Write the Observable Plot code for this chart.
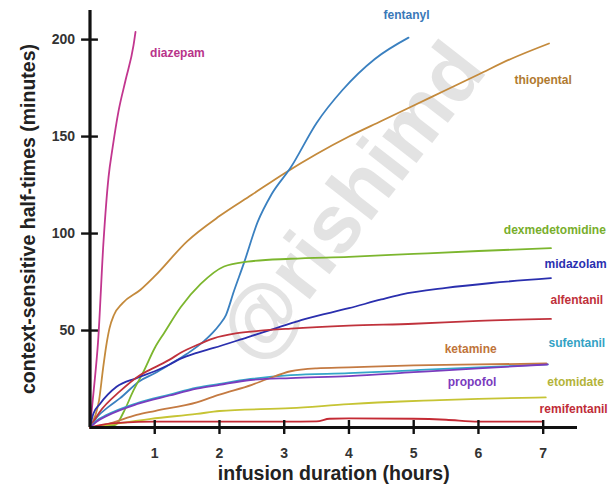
<!DOCTYPE html>
<html>
<head>
<meta charset="utf-8">
<script src="https://cdn.jsdelivr.net/npm/d3@7"></script>
<script src="https://cdn.jsdelivr.net/npm/@observablehq/plot@0.6"></script>
<style>
  html, body { margin: 0; padding: 0; background: #fff; }
  #chart { width: 609px; height: 491px; }
</style>
</head>
<body>
<div id="chart"></div>
<script>
// ---- data (hours, minutes) ----
const drugs = ["diazepam", "thiopental", "fentanyl", "dexmedetomidine", "midazolam", "alfentanil", "sufentanil", "ketamine", "propofol", "etomidate", "remifentanil"];
const drugColors = ["#c2368f", "#c48a3c", "#3a80c0", "#7cb62e", "#2a2fae", "#c0323c", "#34a6c8", "#c47a42", "#7a3cbe", "#c6c434", "#c42a34"];
const labelColors = ["#b8348a", "#b07a30", "#3a78b8", "#78ae2c", "#2a30b0", "#c0303a", "#34a2c4", "#c0743a", "#7a3cbe", "#b4b43a", "#c02c38"];

const diazepamH = [0, 0.06, 0.124, 0.209, 0.286, 0.348, 0.44, 0.549, 0.672, 0.703];
const diazepamM = [0, 20, 44, 96, 129, 144, 163, 179, 197, 204];

const thiopentalH = [0, 0.08, 0.14, 0.2, 0.25, 0.3, 0.37, 0.5, 0.78, 1, 1.5, 2, 2.5, 3, 3.5, 4, 4.5, 5, 5.5, 6, 6.5, 7.09];
const thiopentalM = [0, 6, 14, 30, 42, 51, 58, 64, 71, 78, 96, 109, 120, 131, 141, 150, 158, 166, 174, 182, 190, 198];

const fentanylH = [0, 0.1, 0.3, 0.46, 0.77, 1.0, 1.23, 1.5, 1.76, 1.9, 2.0, 2.1, 2.22, 2.38, 2.59, 2.8, 3.1, 3.5, 3.9, 4.4, 4.92];
const fentanylM = [0, 5, 11, 15, 24, 28, 32.5, 38, 44.5, 49, 53, 58, 70, 85, 106, 120, 134, 157, 174, 190, 201];

const dexmedetomidineH = [0, 0.3, 0.4, 0.52, 0.67, 0.83, 1.0, 1.15, 1.4, 1.71, 2.07, 2.43, 3.1, 4, 5, 6, 7.12];
const dexmedetomidineM = [0, 0.8, 1.5, 8, 19, 29, 41, 49, 62, 74, 83, 85.5, 87, 88, 89.5, 91, 92.5];

const midazolamH = [0, 0.05, 0.15, 0.41, 0.72, 1.0, 1.23, 1.4, 1.65, 1.91, 2.43, 2.9, 3.33, 4, 4.5, 4.8, 5.5, 6.2, 7.12];
const midazolamM = [0, 7, 12, 21, 25.5, 29, 32.5, 35.5, 38.5, 41, 46.5, 51.5, 56, 61.5, 66, 68.5, 72, 74.5, 77];

const alfentanilH = [0, 0.15, 0.46, 0.77, 1.0, 1.23, 1.4, 1.65, 1.91, 2.25, 2.6, 3.1, 4, 5, 6, 7.12];
const alfentanilM = [0, 8, 18.6, 27, 31, 35, 38.5, 42.5, 46, 48.5, 49.8, 51, 52.5, 53.5, 55, 56];

const sufentanilH = [0, 0.1, 0.26, 0.72, 1.23, 1.65, 2.0, 2.48, 3.1, 4, 5, 6, 7.07];
const sufentanilM = [0, 3.5, 6.5, 12.5, 17, 20.5, 22.5, 25, 27, 28, 29.5, 31, 32.5];

const ketamineH = [0, 0.3, 0.72, 1.0, 1.65, 2.0, 2.5, 2.74, 3.1, 3.5, 4, 5, 6, 7.05];
const ketamineM = [0, 2, 6.5, 8.5, 13, 17, 22, 25, 29, 30.5, 31, 32, 32.5, 33];

const propofolH = [0, 0.1, 0.26, 0.72, 1.23, 1.65, 2.0, 2.48, 3.1, 4, 5, 6, 7.07];
const propofolM = [0, 3, 6, 12, 16.5, 20, 22, 24.5, 25.5, 26.5, 28.5, 30.5, 32.5];

const etomidateH = [0, 0.3, 0.94, 1.65, 2.0, 3.1, 4, 4.8, 5.3, 6, 7.04];
const etomidateM = [0, 1.5, 4.5, 7, 8.5, 10, 12, 13.4, 14, 14.8, 15.5];

const remifentanilH = [0, 0.2, 0.5, 1, 2, 3, 3.5, 3.7, 4, 5, 5.5, 6, 7];
const remifentanilM = [0, 1.5, 2.5, 3, 3, 3, 3.2, 4.5, 4.7, 4.5, 4, 3, 3];

const series = {
  diazepam: [diazepamH, diazepamM],
  thiopental: [thiopentalH, thiopentalM],
  fentanyl: [fentanylH, fentanylM],
  dexmedetomidine: [dexmedetomidineH, dexmedetomidineM],
  midazolam: [midazolamH, midazolamM],
  alfentanil: [alfentanilH, alfentanilM],
  sufentanil: [sufentanilH, sufentanilM],
  ketamine: [ketamineH, ketamineM],
  propofol: [propofolH, propofolM],
  etomidate: [etomidateH, etomidateM],
  remifentanil: [remifentanilH, remifentanilM]
};

// label anchors (in data units: hours, minutes), same order as drugs
const labelH = [1.35, 7.0, 4.89, 7.18, 7.5, 7.52, 7.52, 5.88, 5.9, 7.5, 7.47];
const labelM = [193, 179, 212.5, 102, 84, 65.7, 43.4, 40.3, 23.3, 23.3, 9.3];

const xTicks = [1, 2, 3, 4, 5, 6, 7];
const yTicks = [50, 100, 150, 200];

const xTitle = "infusion duration (hours)";
const yTitle = "context-sensitive half-times (minutes)";
const watermark = "@rishimd";

// ---- build table ----
const rows = [];
for (const d of drugs) {
  const [hs, ms] = series[d];
  hs.forEach((h, i) => rows.push({drug: d, h, m: ms[i]}));
}
const labels = drugs.map((d, i) => ({drug: d, h: labelH[i], m: labelM[i], color: labelColors[i]}));

const font = "'Liberation Sans', Arial, Helvetica, sans-serif";

const chart = Plot.plot({
  width: 609,
  height: 491,
  marginLeft: 89.5,
  marginRight: 32,
  marginTop: 10,
  marginBottom: 64,
  style: {fontFamily: font, background: "#fff", overflow: "visible"},
  x: {domain: [0, 7.53], axis: null},
  y: {domain: [0, 215], axis: null},
  color: {domain: drugs, range: drugColors},
  marks: [
    Plot.text([watermark], {x: 4.05, y: 116, text: d => d, rotate: -52, fontSize: 82, fontWeight: "bold", fill: "#c8c8c8", fillOpacity: 0.5}),
    Plot.line(rows, {x: "h", y: "m", z: "drug", stroke: "drug", strokeWidth: 1.8, curve: "monotone-x"}),
    Plot.ruleY([0], {stroke: "#111", strokeWidth: 3.2}),
    Plot.ruleX([0], {stroke: "#111", strokeWidth: 3.2}),
    Plot.ruleX(xTicks, {x: d => d, y1: -3.6, y2: 3.6, stroke: "#111", strokeWidth: 2.4}),
    Plot.ruleY(yTicks, {y: d => d, x1: -0.13, x2: 0.13, stroke: "#111", strokeWidth: 2.4}),
    Plot.text(xTicks, {x: d => d, y: 0, dy: 26, text: d => String(d), fontSize: 14, fontWeight: "bold", fill: "#333"}),
    Plot.text(yTicks, {x: 0, y: d => d, dx: -15, textAnchor: "end", text: d => String(d), fontSize: 14, fontWeight: "bold", fill: "#333"}),
    Plot.text(labels, {x: "h", y: "m", text: "drug", fill: "color", fontSize: 12, fontWeight: "bold"}),
    Plot.text([xTitle], {frameAnchor: "bottom", dy: 52, text: d => d, fontSize: 19.5, fontWeight: "bold", fill: "#222"}),
    Plot.text([yTitle], {frameAnchor: "left", textAnchor: "middle", dx: -61, rotate: -90, text: d => d, fontSize: 19.5, fontWeight: "bold", fill: "#222"})
  ]
});
document.getElementById("chart").appendChild(chart);
</script>
</body>
</html>
